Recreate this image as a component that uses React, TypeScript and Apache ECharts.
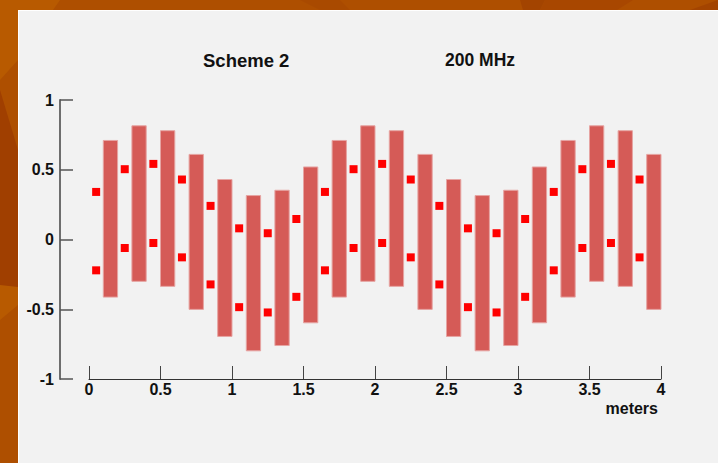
import React, { useEffect, useRef } from "react";
import * as echarts from "echarts";

// Floating bars (x position, low, high)
const barX = [0.15, 0.35, 0.55, 0.75, 0.95, 1.15, 1.35, 1.55, 1.75, 1.95, 2.15, 2.35, 2.55, 2.75, 2.95, 3.15, 3.35, 3.55, 3.75, 3.95];
const barHigh = [0.71, 0.815, 0.78, 0.61, 0.43, 0.315, 0.353, 0.52, 0.71, 0.815, 0.78, 0.61, 0.43, 0.315, 0.353, 0.52, 0.71, 0.815, 0.78, 0.61];
const barLow = [-0.413, -0.3, -0.336, -0.501, -0.695, -0.798, -0.76, -0.597, -0.413, -0.3, -0.336, -0.501, -0.695, -0.798, -0.76, -0.597, -0.413, -0.3, -0.336, -0.501];

// Square markers (x position, upper, lower)
const markX = [0.05, 0.25, 0.45, 0.65, 0.85, 1.05, 1.25, 1.45, 1.65, 1.85, 2.05, 2.25, 2.45, 2.65, 2.85, 3.05, 3.25, 3.45, 3.65, 3.85];
const markUpper = [0.341, 0.504, 0.542, 0.43, 0.241, 0.08, 0.045, 0.147, 0.341, 0.504, 0.542, 0.43, 0.241, 0.08, 0.045, 0.147, 0.341, 0.504, 0.542, 0.43];
const markLower = [-0.221, -0.061, -0.025, -0.128, -0.322, -0.485, -0.523, -0.411, -0.221, -0.061, -0.025, -0.128, -0.322, -0.485, -0.523, -0.411, -0.221, -0.061, -0.025, -0.128];

const titleLeft = "Scheme 2";
const titleRight = "200 MHz";
const xAxisName = "meters";

const FONT = "'Liberation Sans', Arial, Helvetica, sans-serif";

export default function App() {
  const ref = useRef<HTMLDivElement>(null);

  useEffect(() => {
    if (!ref.current) return;
    const chart = echarts.init(ref.current, undefined, { renderer: "svg" });

    const barData = barX.map((x, i) => [x, barLow[i], barHigh[i]]);
    const markData: number[][] = [];
    markX.forEach((x, i) => {
      markData.push([x, markUpper[i]]);
      markData.push([x, markLower[i]]);
    });

    chart.setOption({
      animation: false,
      backgroundColor: "#ae4f00",
      graphic: [
        // orange backdrop shapes
        { type: "polygon", z: -20, shape: { points: [[0, 0], [60, 0], [18, 60], [0, 80]] }, style: { fill: "#b85a00" } },
        { type: "polygon", z: -20, shape: { points: [[0, 90], [18, 150], [18, 290], [0, 290]] }, style: { fill: "#a03f00" } },
        { type: "polygon", z: -20, shape: { points: [[0, 285], [18, 287], [18, 305], [0, 320]] }, style: { fill: "#b85a00" } },
        { type: "polygon", z: -20, shape: { points: [[300, 0], [340, 0], [350, 10], [320, 10]] }, style: { fill: "#a94a00" } },
        { type: "polygon", z: -20, shape: { points: [[520, 0], [545, 0], [540, 10], [523, 10]] }, style: { fill: "#a34400" } },
        { type: "polygon", z: -20, shape: { points: [[545, 0], [633, 0], [617, 10], [540, 10]] }, style: { fill: "#a84700" } },
        { type: "polygon", z: -20, shape: { points: [[690, 10], [718, 0], [718, 10]] }, style: { fill: "#a34400" } },
        // light panel
        { type: "rect", z: -10, shape: { x: 18, y: 10, width: 700, height: 453 }, style: { fill: "#ffffff" } },
        { type: "rect", z: -9, shape: { x: 19, y: 11, width: 699, height: 452 }, style: { fill: "#f2f2f2" } },
        // titles
        {
          type: "text", z: 10, x: 203, y: 60,
          style: { text: titleLeft, fill: "#111", font: `bold 18.5px ${FONT}`, align: "left", verticalAlign: "middle" },
        },
        {
          type: "text", z: 10, x: 445, y: 60,
          style: { text: titleRight, fill: "#111", font: `bold 17.5px ${FONT}`, align: "left", verticalAlign: "middle" },
        },
        {
          type: "text", z: 10, x: 658, y: 408,
          style: { text: xAxisName, fill: "#111", font: `bold 16px ${FONT}`, align: "right", verticalAlign: "middle" },
        },
      ],
      grid: { left: 89, right: 57, top: 100, bottom: 84, containLabel: false },
      xAxis: {
        type: "value",
        min: 0,
        max: 4,
        interval: 0.5,
        axisLine: { show: true, onZero: false, lineStyle: { color: "#333", width: 1 } },
        axisTick: { show: true, inside: true, length: 13, lineStyle: { color: "#444", width: 1 } },
        axisLabel: { margin: 2, color: "#111", fontSize: 16, fontWeight: "bold", fontFamily: FONT },
        splitLine: { show: false },
      },
      yAxis: {
        type: "value",
        min: -1,
        max: 1,
        interval: 0.5,
        offset: 29,
        axisLine: { show: true, onZero: false, lineStyle: { color: "#6e6e6e", width: 2 } },
        axisTick: { show: true, inside: true, length: 13, lineStyle: { color: "#555", width: 1.5 } },
        axisLabel: { margin: 6, color: "#111", fontSize: 16, fontWeight: "bold", fontFamily: FONT },
        splitLine: { show: false },
      },
      series: [
        {
          type: "custom",
          data: barData,
          encode: { x: 0, y: [1, 2] },
          renderItem: (params: any, api: any) => {
            const x = api.value(0);
            const lo = api.value(1);
            const hi = api.value(2);
            const top = api.coord([x, hi]);
            const bottom = api.coord([x, lo]);
            const w = api.size([0.1, 0])[0];
            return {
              type: "rect",
              shape: { x: top[0] - w / 2, y: top[1], width: w, height: bottom[1] - top[1] },
              style: { fill: "#d55b57", stroke: "#e6a4a2", lineWidth: 1 },
            };
          },
        },
        {
          type: "scatter",
          data: markData,
          symbol: "rect",
          symbolSize: 8,
          itemStyle: { color: "#ff0000", opacity: 1 },
        },
      ],
    });

    return () => chart.dispose();
  }, []);

  return (
    <div
      ref={ref}
      style={{ position: "fixed", left: 0, top: 0, width: 718, height: 463 }}
    />
  );
}
